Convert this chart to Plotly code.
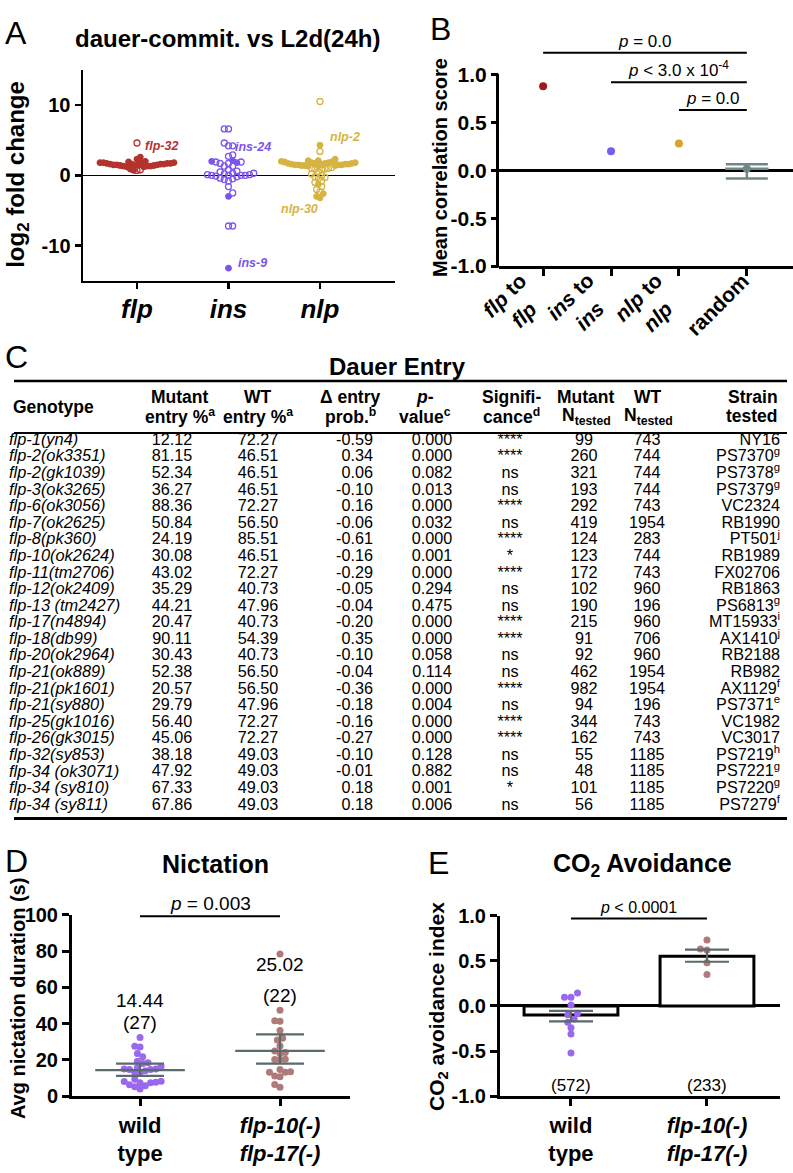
import plotly.graph_objects as go

W, H = 793, 1173
FONT = "Liberation Sans, Arial, Helvetica, sans-serif"


def px(x):
    return x / W


def py(y):
    return 1 - y / H


# ---------------- Panel A data: log2 fold change per neuropeptide family
a_categories = ["flp", "ins", "nlp"]
flp_log2fc = [4.6, 2.6, 2.3, 2.0, 1.9, 1.9, 1.8, 1.8, 1.8, 1.7, 1.7, 1.7, 1.6, 1.6, 1.6, 1.6,
              1.5, 1.5, 1.5, 1.5, 1.4, 1.4, 1.4, 1.3, 1.3, 1.3, 1.2, 1.2, 0.9, 0.8, 0.7, 0.7]
flp_open = [1, 0, 0, 0, 0, 0, 0, 0, 0, 0, 0, 0, 0, 0, 0, 0,
            0, 0, 0, 0, 0, 0, 0, 0, 0, 0, 0, 0, 0, 1, 1, 0]
ins_log2fc = [6.6, 6.6, 4.6, 4.2, 4.2, 2.9, 2.7, 2.1, 2.0, 1.9, 1.9, 1.8, 1.7, 1.7, 1.3, 1.3,
              0.8, 0.6, 0.5, 0.3, 0.3, 0.2, 0.1, 0.1, 0.0, 0.0, 0.0, 0.0, -0.1, -0.2, -0.4,
              -0.5, -0.6, -0.8, -1.6, -2.5, -3.0, -7.2, -7.2, -13.2]
ins_open = [1, 1, 1, 1, 1, 1, 1, 0, 0, 1, 1, 0, 1, 1, 1, 1,
            1, 1, 1, 1, 1, 1, 1, 1, 1, 1, 1, 1, 1, 1, 1,
            1, 1, 1, 1, 1, 0, 1, 1, 0]
nlp_log2fc = [10.5, 4.3, 3.4, 2.3, 2.1, 2.1, 2.0, 1.9, 1.9, 1.8, 1.8, 1.8, 1.7, 1.7, 1.7, 1.7,
              1.6, 1.6, 1.6, 1.6, 1.5, 1.5, 1.5, 1.5, 1.4, 1.4, 1.4, 1.3, 1.3,
              1.1, 1.0, 1.0, 0.9, 0.9, 0.8, 0.5, 0.2, 0.0, -0.2, -0.3, -0.5, -0.8, -1.0,
              -1.3, -1.6, -2.0, -2.3, -2.6, -3.0, -3.2]
nlp_open = [1, 0, 1, 0, 0, 0, 0, 0, 0, 0, 0, 0, 0, 0, 0, 0,
            0, 0, 0, 0, 0, 0, 0, 0, 0, 0, 0, 0, 0,
            1, 1, 1, 1, 1, 1, 1, 1, 1, 1, 1, 1, 1, 1,
            0, 1, 1, 1, 0, 0, 0]
a_gene_labels = ["flp-32", "ins-24", "ins-9", "nlp-2", "nlp-30"]
a_gene_label_cat = [0, 1, 1, 2, 2]
a_gene_label_val = [4.2, 4.0, -12.4, 5.4, -4.8]

# ---------------- Panel B data
b_labels = ["<i>flp</i> to<br><i>flp</i>", "<i>ins</i> to<br><i>ins</i>",
            "<i>nlp</i> to<br><i>nlp</i>", "random"]
b_means = [0.88, 0.20, 0.28, 0.017]
b_random_ci_high = 0.064
b_random_ci_low = -0.085
b_pvalue_text = ["<i>p</i> = 0.0", "<i>p</i> &lt; 3.0 x 10<sup>-4</sup>", "<i>p</i> = 0.0"]
b_pvalue_from = [0, 1, 2]
b_pvalue_to = [3, 3, 3]
b_pvalue_level = [1.23, 0.92, 0.63]

# ---------------- Panel C table data
genotypes = ["flp-1(yn4)", "flp-2(ok3351)", "flp-2(gk1039)", "flp-3(ok3265)", "flp-6(ok3056)",
             "flp-7(ok2625)", "flp-8(pk360)", "flp-10(ok2624)", "flp-11(tm2706)", "flp-12(ok2409)",
             "flp-13 (tm2427)", "flp-17(n4894)", "flp-18(db99)", "flp-20(ok2964)", "flp-21(ok889)",
             "flp-21(pk1601)", "flp-21(sy880)", "flp-25(gk1016)", "flp-26(gk3015)", "flp-32(sy853)",
             "flp-34 (ok3071)", "flp-34 (sy810)", "flp-34 (sy811)"]
mutant_entry = [12.12, 81.15, 52.34, 36.27, 88.36, 50.84, 24.19, 30.08, 43.02, 35.29, 44.21, 20.47,
                90.11, 30.43, 52.38, 20.57, 29.79, 56.40, 45.06, 38.18, 47.92, 67.33, 67.86]
wt_entry = [72.27, 46.51, 46.51, 46.51, 72.27, 56.50, 85.51, 46.51, 72.27, 40.73, 47.96, 40.73,
            54.39, 40.73, 56.50, 56.50, 47.96, 72.27, 72.27, 49.03, 49.03, 49.03, 49.03]
delta_entry = [-0.59, 0.34, 0.06, -0.10, 0.16, -0.06, -0.61, -0.16, -0.29, -0.05, -0.04, -0.20,
               0.35, -0.10, -0.04, -0.36, -0.18, -0.16, -0.27, -0.10, -0.01, 0.18, 0.18]
p_values = ["0.000", "0.000", "0.082", "0.013", "0.000", "0.032", "0.000", "0.001", "0.000", "0.294",
            "0.475", "0.000", "0.000", "0.058", "0.114", "0.000", "0.004", "0.000", "0.000", "0.128",
            "0.882", "0.001", "0.006"]
significance = ["****", "****", "ns", "ns", "****", "ns", "****", "*", "****", "ns", "ns", "****",
                "****", "ns", "ns", "****", "ns", "****", "****", "ns", "ns", "*", "ns"]
mutant_n = [99, 260, 321, 193, 292, 419, 124, 123, 172, 102, 190, 215, 91, 92, 462, 982, 94, 344,
            162, 55, 48, 101, 56]
wt_n = [743, 744, 744, 744, 743, 1954, 283, 744, 743, 960, 196, 960, 706, 960, 1954, 1954, 196,
        743, 743, 1185, 1185, 1185, 1185]
strains = ["NY16", "PS7370", "PS7378", "PS7379", "VC2324", "RB1990", "PT501", "RB1989", "FX02706",
           "RB1863", "PS6813", "MT15933", "AX1410", "RB2188", "RB982", "AX1129", "PS7371", "VC1982",
           "VC3017", "PS7219", "PS7221", "PS7220", "PS7279"]
strain_notes = ["", "g", "g", "g", "", "", "j", "", "", "", "g", "i", "j", "", "", "f", "e", "", "",
                "h", "g", "g", "f"]
table_headers = [["Genotype"], ["Mutant", "entry %<sup>a</sup>"], ["WT", "entry %<sup>a</sup>"],
                 ["Δ entry", "prob.<sup>b</sup>"], ["<i>p</i>-", "value<sup>c</sup>"],
                 ["Signifi-", "cance<sup>d</sup>"], ["Mutant", "N<sub>tested</sub>"],
                 ["WT", "N<sub>tested</sub>"], ["Strain", "tested"]]

# ---------------- Panel D data (nictation duration, s)
de_groups = ["wild<br>type", "<i>flp-10(-)</i><br><i>flp-17(-)</i>"]
d_wild = [32.4, 27.2, 27.6, 23.6, 21.8, 19.3, 18.4, 18.0, 16.6, 15.9, 15.0, 15.0, 14.8, 14.1, 14.8,
          12.8, 13.0, 9.4, 8.3, 7.7, 8.1, 7.4, 7.4, 6.3, 5.2, 5.8, 4.0]
d_mut = [78.4, 47.4, 41.3, 41.6, 36.2, 31.9, 31.0, 27.7, 25.0, 24.1, 23.6, 20.2, 20.4, 20.2, 14.8,
         13.2, 13.2, 13.5, 11.2, 10.8, 5.0, 6.5]
d_means = [14.44, 25.02]
d_n = [27, 22]
d_ci_low = [11.2, 18.0]
d_ci_high = [18.0, 34.1]

# ---------------- Panel E data (CO2 avoidance index)
e_wild = [0.145, 0.098, 0.098, 0.011, -0.08, -0.098, -0.145, -0.18, -0.24, -0.31, -0.52]
e_mut = [0.73, 0.62, 0.63, 0.48, 0.35]
e_means = [-0.10, 0.55]
e_ci_low = [-0.17, 0.49]
e_ci_high = [-0.055, 0.625]
e_n = [572, 233]

# ---------------- colours
C_FLP, C_INS, C_NLP = "#B3332E", "#7C55EE", "#D6B443"
C_B = ["#A11A1A", "#7B5CF0", "#D8A42A", "#6E8985"]
C_WT, C_MUT, C_ERR = "#9A68EE", "#B07A7A", "#5B6B69"


def swarm(vals, ppu_x, ppu_y, diam, squeeze=1.0):
    order = sorted(range(len(vals)), key=lambda i: vals[i])
    placed, offs = [], [0.0] * len(vals)
    step = diam * 0.5
    flip = 1
    for i in order:
        yv = vals[i] * ppu_y
        k, got = 0, None
        while got is None:
            cands = [0.0] if k == 0 else [flip * k * step, -flip * k * step]
            for c in cands:
                if all((c - a) ** 2 + (yv - b) ** 2 >= 0.97 * diam * diam for a, b in placed):
                    got = c
                    break
            k += 1
        flip = -flip
        placed.append((got, yv))
        offs[i] = squeeze * got / ppu_x
    return offs


fig = go.Figure()

# ---------- Panel A
a_sets = [(flp_log2fc, flp_open, C_FLP), (ins_log2fc, ins_open, C_INS), (nlp_log2fc, nlp_open, C_NLP)]
a_squeeze = [0.6, 0.75, 0.6]
for ci, (vals, opn, col) in enumerate(a_sets):
    offs = swarm(vals, 91.5, 7.17, 5.6, squeeze=a_squeeze[ci])
    for is_open in (0, 1):
        xs = [ci + o for o, f in zip(offs, opn) if f == is_open]
        ys = [v for v, f in zip(vals, opn) if f == is_open]
        fig.add_trace(go.Scatter(
            x=xs, y=ys, mode="markers", xaxis="x", yaxis="y", hoverinfo="skip",
            marker=dict(symbol="circle-open" if is_open else "circle", size=6 if is_open else 5.5,
                        color=col, line=dict(width=1.3, color=col))))

# ---------- Panel B
for i, m in enumerate(b_means[:3]):
    fig.add_trace(go.Scatter(x=[i], y=[m], mode="markers", xaxis="x2", yaxis="y2",
                             marker=dict(size=8, color=C_B[i]), hoverinfo="skip"))
fig.add_trace(go.Scatter(x=[3 - 0.32, 3 + 0.32], y=[b_means[3]] * 2, mode="lines", xaxis="x2",
                         yaxis="y2", line=dict(color=C_B[3], width=2.5), hoverinfo="skip"))
fig.add_trace(go.Scatter(
    x=[3], y=[b_means[3]], mode="markers", xaxis="x2", yaxis="y2", hoverinfo="skip",
    marker=dict(size=8, color=C_B[3]),
    error_y=dict(type="data", symmetric=False, array=[b_random_ci_high - b_means[3]],
                 arrayminus=[b_means[3] - b_random_ci_low], color=C_B[3], thickness=2.5, width=21)))

# ---------- Panel D
for gi, (vals, col) in enumerate([(d_wild, C_WT), (d_mut, C_MUT)]):
    offs = swarm(vals, 140, 1.85, 6.2, squeeze=0.85)
    fig.add_trace(go.Scatter(x=[gi + o for o in offs], y=vals, mode="markers", xaxis="x3",
                             yaxis="y3", marker=dict(size=7, color=col), hoverinfo="skip"))
for gi in range(2):
    fig.add_trace(go.Scatter(x=[gi - 0.32, gi + 0.32], y=[d_means[gi]] * 2, mode="lines",
                             xaxis="x3", yaxis="y3", line=dict(color=C_ERR, width=2.2),
                             hoverinfo="skip"))
fig.add_trace(go.Scatter(
    x=[0, 1], y=d_means, mode="markers", xaxis="x3", yaxis="y3", marker=dict(size=1, opacity=0),
    hoverinfo="skip",
    error_y=dict(type="data", symmetric=False, array=[h - m for h, m in zip(d_ci_high, d_means)],
                 arrayminus=[m - l for m, l in zip(d_means, d_ci_low)], color=C_ERR,
                 thickness=2.2, width=24)))

# ---------- Panel E
fig.add_trace(go.Bar(x=[0, 1], y=e_means, width=0.69, xaxis="x4", yaxis="y4",
                     marker=dict(color="white", line=dict(color="black", width=3)),
                     hoverinfo="skip"))
for gi, (vals, col) in enumerate([(e_wild, C_WT), (e_mut, C_MUT)]):
    offs = swarm(vals, 136, 92, 6.5)
    fig.add_trace(go.Scatter(x=[gi + o for o in offs], y=vals, mode="markers", xaxis="x4",
                             yaxis="y4", marker=dict(size=7, color=col), hoverinfo="skip"))
fig.add_trace(go.Scatter(
    x=[0, 1], y=e_means, mode="markers", xaxis="x4", yaxis="y4", marker=dict(size=1, opacity=0),
    hoverinfo="skip",
    error_y=dict(type="data", symmetric=False, array=[h - m for h, m in zip(e_ci_high, e_means)],
                 arrayminus=[m - l for m, l in zip(e_means, e_ci_low)], color=C_ERR,
                 thickness=2.2, width=22)))

# ---------- Panel C table (text laid out on a hidden pixel-scaled axis)
ROW0, ROWH = 438, 16.9
row_y = [ROW0 + ROWH * i for i in range(len(genotypes))]
TF = dict(family=FONT, size=16.2, color="black")
columns = [
    (genotypes, 9, "middle right", dict(TF, size=16.4, style="italic")),
    (["%.2f" % v for v in mutant_entry], 172, "middle center", TF),
    (["%.2f" % v for v in wt_entry], 258, "middle center", TF),
    (["%.2f" % v for v in delta_entry], 373, "middle left", TF),
    (p_values, 432, "middle center", TF),
    (significance, 510, "middle center", TF),
    ([str(v) for v in mutant_n], 584, "middle center", TF),
    ([str(v) for v in wt_n], 647, "middle center", TF),
    ([s + ("<sup>%s</sup>" % n if n else "") for s, n in zip(strains, strain_notes)], 780,
     "middle left", TF),
]
for texts, cx, pos, font in columns:
    fig.add_trace(go.Scatter(x=[cx] * len(texts), y=row_y, text=texts, mode="text",
                             textposition=pos, textfont=font, xaxis="x5", yaxis="y5",
                             cliponaxis=False, hoverinfo="skip"))

header_x = [11, 180, 258, 350, 425, 511, 586, 648, 780]
header_anchor = ["left", "center", "center", "center", "center", "center", "center", "center", "right"]

annotations = []


def ann(text, x, y, size, bold=False, xanchor="center", yanchor="middle", xref="paper",
        yref="paper", angle=0, color="black", italic=False, align="center", xshift=0, yshift=0):
    annotations.append(dict(
        text=text, x=x, y=y, xref=xref, yref=yref, showarrow=False, xanchor=xanchor,
        yanchor=yanchor, textangle=angle, align=align, xshift=xshift, yshift=yshift,
        font=dict(family=FONT, size=size, color=color, weight="bold" if bold else "normal",
                  style="italic" if italic else "normal")))


for hx, anc, lines in zip(header_x, header_anchor, table_headers):
    if len(lines) == 1:
        ann(lines[0], hx, 404, 17.5, bold=True, xanchor=anc, xref="x5", yref="y5")
    else:
        ann(lines[0], hx, 393, 17.5, bold=True, xanchor=anc, xref="x5", yref="y5")
        ann(lines[1], hx, 413, 17.5, bold=True, xanchor=anc, xref="x5", yref="y5")
ann("Dauer Entry", 397, 362, 24, bold=True, xref="x5", yref="y5")

# panel letters
for letter, lx, ly in [("A", 16, 22), ("B", 440, 18), ("C", 16, 353), ("D", 16, 866), ("E", 438, 868)]:
    ann(letter, px(lx), py(ly), 32)

# titles
ann("dauer-commit. vs L2d(24h)", px(227), py(28), 24, bold=True)
ann("Nictation", px(215), py(869), 25, bold=True)
ann("CO<sub>2</sub> Avoidance", px(642), py(870), 25, bold=True)

# y-axis titles
ann("log<sub>2</sub> fold change", px(18), py(167), 24, bold=True, angle=-90)
ann("Mean correlation score", px(440), py(160), 20, bold=True, angle=-90)
ann("Avg nictation duration (s)", px(18), py(1007), 20, bold=True, angle=-90)
ann("CO<sub>2</sub> avoidance index", px(438), py(1015), 21, bold=True, angle=-90)

# panel B category labels, rotated 45 degrees, ending at each tick
for i, lab in enumerate(b_labels):
    ann(lab, i, py(266), 21, bold=True, xanchor="right", yanchor="top", xref="x2", angle=-45,
        xshift=9, yshift=6)

# panel A gene labels
a_cols = [C_FLP, C_INS, C_NLP]
a_label_dx = [0.07, 0.05, 0.08, 0.09, -0.45]
for lab, c, v, dx in zip(a_gene_labels, a_gene_label_cat, a_gene_label_val, a_label_dx):
    ann(lab, c + dx, v, 12.5, bold=True, italic=True, xanchor="left", xref="x", yref="y",
        color=a_cols[c])

# p-values
shapes = []
for t, f, to, lv in zip(b_pvalue_text, b_pvalue_from, b_pvalue_to, b_pvalue_level):
    shapes.append(dict(type="line", xref="x2", yref="y2", x0=f, x1=to, y0=lv, y1=lv,
                       line=dict(color="black", width=2)))
    ann(t, (f + to) / 2, lv, 17, xref="x2", yref="y2", yanchor="bottom")
shapes.append(dict(type="line", xref="x3", yref="y3", x0=0, x1=1, y0=99.2, y1=99.2,
                   line=dict(color="black", width=2)))
ann("<i>p</i> = 0.003", 0.5, 99.2, 19, xref="x3", yref="y3", yanchor="bottom")
shapes.append(dict(type="line", xref="x4", yref="y4", x0=0, x1=1, y0=0.97, y1=0.97,
                   line=dict(color="black", width=2)))
ann("<i>p</i> &lt; 0.0001", 0.5, 0.97, 16, xref="x4", yref="y4", yanchor="bottom")

# D mean and n labels, E n labels
ann("%.2f" % d_means[0], 0, 53, 19, xref="x3", yref="y3")
ann("(%d)" % d_n[0], 0, 40.5, 19, xref="x3", yref="y3")
ann("%.2f" % d_means[1], 1, 72.5, 19, xref="x3", yref="y3")
ann("(%d)" % d_n[1], 1, 55.5, 19, xref="x3", yref="y3")
for gi, n in enumerate(e_n):
    ann("(%d)" % n, gi, -0.88, 17, xref="x4", yref="y4")

# B y axis line (only from -1 to 1) and table rules
shapes.append(dict(type="line", xref="paper", yref="paper", x0=px(497.5), x1=px(497.5),
                   y0=py(261.5), y1=py(64), line=dict(color="black", width=3)))
for ry, lw in [(377, 2.5), (430, 2), (823, 3)]:
    shapes.append(dict(type="line", xref="x5", yref="y5", x0=14, x1=787, y0=ry, y1=ry,
                       line=dict(color="black", width=lw)))

AX = dict(showgrid=False, zeroline=False, linecolor="black", ticks="outside", tickcolor="black",
          fixedrange=True)


def BF(s):
    return dict(family=FONT, size=s, color="black", weight="bold")


fig.update_layout(
    width=W, height=H, margin=dict(l=0, r=0, t=0, b=0), paper_bgcolor="white",
    plot_bgcolor="rgba(0,0,0,0)", showlegend=False, font=dict(family=FONT, color="black"),
    xaxis=dict(AX, domain=[px(83), px(395)], range=[-0.59, 2.82], anchor="y", tickvals=[0, 1, 2],
               ticktext=["<i>%s</i>" % c for c in a_categories], showline=True, linewidth=2.5,
               ticklen=6, tickwidth=2.5, tickfont=BF(26), ticklabelstandoff=-3),
    yaxis=dict(AX, domain=[py(275), py(60)], range=[-15, 15], anchor="x", tickvals=[-10, 0, 10],
               ticktext=["-10", "0", "10"], showline=True, linewidth=2.5, ticklen=6, tickwidth=2.5,
               tickfont=BF(20), zeroline=True, zerolinecolor="black", zerolinewidth=1.5),
    xaxis2=dict(AX, domain=[px(499), 1], range=[-0.65, 3.68], anchor="y2", tickvals=[0, 1, 2, 3],
                showticklabels=False, showline=True, linewidth=3, ticklen=7, tickwidth=3),
    yaxis2=dict(AX, domain=[py(260), py(21)], range=[-1, 1.45], anchor="x2",
                tickvals=[-1, -0.5, 0, 0.5, 1], ticktext=["-1.0", "-0.5", "0.0", "0.5", "1.0"],
                showline=False, ticklen=7, tickwidth=3, tickfont=BF(21), zeroline=True,
                zerolinecolor="black", zerolinewidth=2.5),
    xaxis3=dict(AX, domain=[px(72), px(350)], range=[-0.486, 1.5], anchor="y3", tickvals=[0, 1],
                ticktext=de_groups, showline=True, linewidth=3, ticklen=7, tickwidth=3,
                tickfont=BF(22)),
    yaxis3=dict(AX, domain=[py(1106), py(921)], range=[0, 100], anchor="x3",
                tickvals=[0, 20, 40, 60, 80, 100], showline=True, linewidth=3, ticklen=7,
                tickwidth=3, tickfont=BF(20)),
    xaxis4=dict(AX, domain=[px(500), px(780)], range=[-0.522, 1.537], anchor="y4", tickvals=[0, 1],
                ticktext=de_groups, showline=True, linewidth=3, ticklen=7, tickwidth=3,
                tickfont=BF(22)),
    yaxis4=dict(AX, domain=[py(1106), py(922)], range=[-1, 1], anchor="x4",
                tickvals=[-1, -0.5, 0, 0.5, 1], ticktext=["-1.0", "-0.5", "0.0", "0.5", "1.0"],
                showline=True, linewidth=3, ticklen=7, tickwidth=3, tickfont=BF(20),
                zeroline=True, zerolinecolor="black", zerolinewidth=3),
    xaxis5=dict(domain=[0, 1], range=[0, W], visible=False, fixedrange=True, anchor="y5"),
    yaxis5=dict(domain=[py(845), py(340)], range=[845, 340], visible=False, fixedrange=True,
                anchor="x5"),
    annotations=annotations, shapes=shapes, bargap=0,
)

fig.write_html("out.html", config={"displayModeBar": False, "staticPlot": True},
               post_script="document.body.style.margin='0px';")
